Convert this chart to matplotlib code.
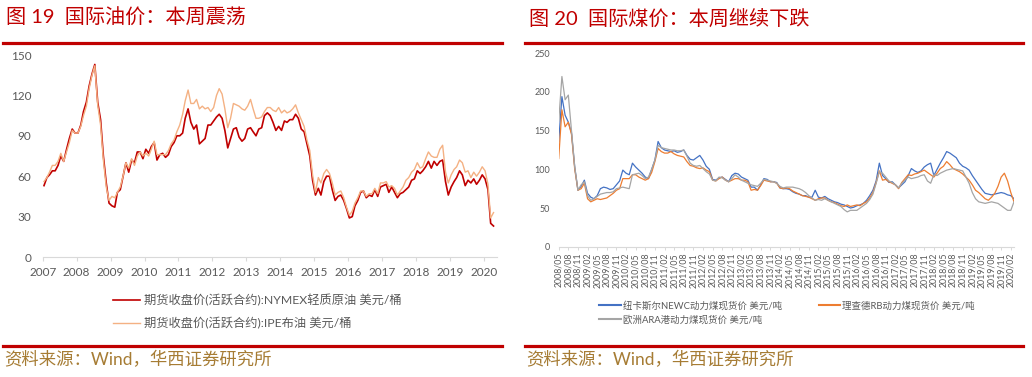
import matplotlib
matplotlib.use('Agg')
import matplotlib.pyplot as plt
import matplotlib.dates as mdates
from matplotlib.lines import Line2D
import pandas as pd
from datetime import datetime

plt.rcParams['font.family'] = ['Lato', 'Noto Sans CJK SC', 'DejaVu Sans']

# ---------------- data: international oil (monthly, USD/bbl) ----------------
oil_start = '2007-01-01'
wti = [
    53, 59, 61, 64, 64, 68, 75, 71, 80, 88, 95, 92,          # 2007
    92, 98, 108, 115, 127, 136, 143, 115, 102, 75, 55, 40,   # 2008
    38, 37, 48, 50, 60, 70, 63, 72, 70, 78, 78, 73,          # 2009
    80, 77, 82, 85, 72, 76, 77, 74, 76, 82, 85, 90,          # 2010
    90, 92, 103, 110, 100, 95, 98, 84, 86, 88, 98, 98,       # 2011
    101, 104, 106, 103, 94, 81, 88, 95, 96, 89, 86, 88,      # 2012
    95, 96, 93, 90, 95, 96, 105, 107, 105, 100, 94, 97,      # 2013
    94, 101, 100, 102, 102, 106, 103, 95, 93, 84, 75, 57,    # 2014
    46, 51, 46, 56, 60, 60, 50, 42, 45, 46, 42, 36,          # 2015
    29, 30, 38, 42, 48, 49, 44, 46, 45, 50, 45, 52,          # 2016
    53, 54, 48, 52, 48, 44, 47, 48, 50, 52, 57, 58,          # 2017
    64, 62, 64, 67, 71, 66, 71, 68, 71, 72, 56, 46,          # 2018
    52, 56, 59, 64, 61, 53, 57, 55, 58, 54, 57, 61,          # 2019
    58, 50, 25, 23,                                          # 2020
]
brent = [
    56, 59, 63, 68, 68, 71, 77, 71, 78, 85, 94, 92,
    92, 97, 105, 112, 125, 135, 142, 113, 98, 72, 52, 42,
    45, 44, 48, 52, 60, 70, 66, 73, 68, 75, 78, 75,
    77, 75, 80, 86, 76, 76, 76, 76, 79, 84, 87, 93,
    98, 106, 116, 124, 114, 114, 117, 110, 112, 110, 111, 108,
    111, 120, 125, 121, 110, 96, 103, 114, 113, 112, 110, 109,
    112, 117, 110, 103, 103, 104, 108, 111, 111, 109, 108, 111,
    107, 109, 107, 108, 110, 113, 107, 102, 97, 87, 79, 61,
    48, 59, 55, 62, 65, 62, 55, 46, 48, 49, 44, 37,
    31, 34, 40, 44, 49, 49, 45, 47, 47, 51, 47, 55,
    55, 56, 52, 53, 51, 46, 49, 52, 57, 59, 63, 65,
    70, 66, 67, 73, 78, 75, 74, 74, 80, 83, 63, 55,
    61, 65, 67, 72, 70, 63, 64, 59, 63, 60, 63, 67,
    64, 54, 29, 33,
]
oil_labels = ['期货收盘价(活跃合约):NYMEX轻质原油 美元/桶',
              '期货收盘价(活跃合约):IPE布油 美元/桶']
oil_yticks = [0, 30, 60, 90, 120, 150]

# ---------------- data: international coal (monthly, USD/t) ----------------
coal_start = '2008-05'
newc = [
    136, 194, 170, 161, 147, 103, 73, 78, 86, 69, 64, 62,
    66, 75, 77, 76, 74, 75, 80, 85, 99, 95, 93, 108,
    103, 99, 95, 90, 88, 100, 112, 136, 128, 125, 124, 123,
    124, 122, 123, 125, 118, 113, 112, 115, 118, 112, 104, 100,
    87, 86, 89, 90, 87, 84, 92, 95, 94, 90, 88, 86,
    77, 77, 73, 80, 88, 87, 84, 84, 83, 76, 75, 75,
    74, 71, 69, 68, 66, 66, 64, 64, 73, 64, 63, 65,
    62, 60, 58, 57, 55, 54, 52, 50, 51, 53, 54, 56,
    60, 66, 73, 85, 108, 92, 88, 83, 84, 80, 76, 80,
    84, 92, 101, 98, 96, 98, 103, 106, 108, 92, 100, 108,
    115, 123, 121, 118, 115, 108, 104, 102, 99, 92, 86, 80,
    74, 69, 68, 67, 68, 69, 70, 69, 67, 66, 62,
]
rb = [
    114, 177, 155, 161, 145, 100, 73, 75, 82, 62, 58, 60,
    62, 61, 62, 63, 66, 69, 73, 75, 88, 88, 88, 93,
    93, 90, 88, 86, 88, 96, 110, 127, 123, 121, 121, 123,
    120, 118, 117, 116, 110, 105, 104, 102, 101, 102, 99, 97,
    86, 85, 88, 90, 86, 84, 86, 88, 88, 86, 86, 84,
    73, 74, 73, 79, 86, 85, 84, 84, 82, 76, 75, 76,
    75, 72, 70, 68, 66, 65, 64, 62, 60, 62, 63, 63,
    60, 58, 57, 55, 53, 52, 54, 52, 53, 54, 53, 56,
    58, 63, 70, 83, 98, 86, 87, 84, 82, 80, 75, 83,
    88, 93, 92, 94, 95, 97, 99, 96, 93, 90, 95, 101,
    104, 110, 106, 101, 99, 97, 94, 90, 86, 80, 73, 70,
    66, 62, 60, 64, 69, 78, 90, 95, 85, 70, 58,
]
ara = [
    162, 220, 190, 196, 150, 103, 73, 80, 84, 66, 60, 62,
    65, 68, 69, 70, 70, 71, 75, 76, 77, 76, 75, 93,
    94, 95, 92, 88, 90, 100, 112, 131, 128, 127, 126, 125,
    125, 124, 124, 125, 117, 108, 105, 104, 105, 101, 97, 94,
    86, 85, 90, 89, 86, 84, 88, 93, 90, 86, 84, 82,
    80, 79, 78, 82, 87, 86, 85, 84, 82, 78, 76, 77,
    77, 77, 76, 75, 73, 70, 66, 63, 60, 61, 60, 62,
    60, 58, 56, 54, 52, 48, 45, 47, 47, 47, 50, 53,
    56, 61, 68, 82, 97, 95, 90, 85, 83, 80, 76, 82,
    86, 90, 88, 89, 90, 92, 93, 85, 82, 93, 92, 95,
    97, 99, 100, 101, 100, 99, 98, 90, 82, 70, 62, 58,
    57, 56, 57, 58, 57, 56, 53, 50, 47, 47, 58,
]
coal_labels = ['纽卡斯尔NEWC动力煤现货价 美元/吨',
               '理查德RB动力煤现货价 美元/吨',
               '欧洲ARA港动力煤现货价 美元/吨']
coal_yticks = [0, 50, 100, 150, 200, 250]

# ---------------- style ----------------
RED = '#C00000'
WTI_C = '#C00000'
BRENT_C = '#F4B183'
BLUE = '#4472C4'
ORANGE = '#ED7D31'
GRAY = '#A5A5A5'
TXT = '#595959'
AXC = '#D9D9D9'
SRC = '#A67C34'

W, H = 1032, 377
fig = plt.figure(figsize=(W / 100, H / 100), dpi=100)


def fx(px):
    return px / W


def fy(py):
    return 1 - py / H


# ---------------- left chart: oil ----------------
oil_dates = pd.date_range(oil_start, periods=len(wti), freq='MS') + pd.Timedelta(days=14)
ax1 = fig.add_axes([fx(42.7), fy(257), (496.7 - 42.7) / W, (257 - 55) / H])
l_wti, = ax1.plot(oil_dates, wti, color=WTI_C, lw=1.2, label=oil_labels[0])
l_brent, = ax1.plot(oil_dates, brent, color=BRENT_C, lw=1.0, label=oil_labels[1])
ax1.set_ylim(0, 150)
ax1.set_yticks(oil_yticks)
ax1.set_xlim(datetime(2007, 1, 1), datetime(2020, 5, 19))
ax1.xaxis.set_major_locator(mdates.YearLocator())
ax1.xaxis.set_major_formatter(mdates.DateFormatter('%Y'))
for s in ['top', 'right', 'left']:
    ax1.spines[s].set_visible(False)
ax1.spines['bottom'].set_color(AXC)
ax1.spines['bottom'].set_linewidth(0.8)
ax1.tick_params(axis='y', length=0, pad=8, labelsize=8.5, labelcolor=TXT)
ax1.tick_params(axis='x', length=3, width=0.8, color=AXC, pad=4, labelsize=8.5, labelcolor=TXT)

leg1 = fig.legend(handles=[l_wti, l_brent], loc='upper left',
                  bbox_to_anchor=(fx(113), fy(294)), frameon=False,
                  fontsize=8.8, handlelength=2.2, handletextpad=0.35,
                  labelspacing=0.85, borderpad=0, borderaxespad=0)
for t in leg1.get_texts():
    t.set_color(TXT)

# ---------------- right chart: coal ----------------
coal_periods = pd.period_range(coal_start, periods=len(newc), freq='M')
coal_x = list(range(len(newc)))
coal_tick_labels = [p.strftime('%Y/%m') for p in coal_periods]

ax2 = fig.add_axes([fx(558.7), fy(246.7), (1014 - 558.7) / W, (246.7 - 53.3) / H])
l_newc, = ax2.plot(coal_x, newc, color=BLUE, lw=0.9, label=coal_labels[0])
l_rb, = ax2.plot(coal_x, rb, color=ORANGE, lw=0.9, label=coal_labels[1])
l_ara, = ax2.plot(coal_x, ara, color=GRAY, lw=0.9, label=coal_labels[2])
ax2.set_ylim(0, 250)
ax2.set_yticks(coal_yticks)
ax2.set_xlim(0, len(newc) - 1)
ax2.set_xticks(coal_x[::3])
ax2.set_xticklabels(coal_tick_labels[::3], rotation=90)
for s in ['top', 'right', 'left']:
    ax2.spines[s].set_visible(False)
ax2.spines['bottom'].set_color(AXC)
ax2.spines['bottom'].set_linewidth(0.8)
ax2.tick_params(axis='y', length=0, pad=6, labelsize=6.5, labelcolor=TXT)
ax2.tick_params(axis='x', length=2.5, width=0.7, color=AXC, pad=2, labelsize=6.3, labelcolor=TXT)

leg2 = fig.legend(handles=[l_newc, l_ara, l_rb],
                  labels=[coal_labels[0], coal_labels[2], coal_labels[1]],
                  loc='upper left', ncol=2,
                  bbox_to_anchor=(fx(599), fy(301)), frameon=False,
                  fontsize=6.8, handlelength=2.3, handletextpad=0.2,
                  columnspacing=3.9, labelspacing=0.45,
                  borderpad=0, borderaxespad=0)
for t in leg2.get_texts():
    t.set_color(TXT)
for h in leg2.legend_handles:
    h.set_linewidth(1.5)

# ---------------- titles, rules, sources ----------------
fig.text(fx(6), fy(17.7), '图 19  国际油价：本周震荡', fontsize=14.5, color=RED,
         ha='left', va='center')
fig.text(fx(529), fy(17.7), '图 20  国际煤价：本周继续下跌', fontsize=14.5, color=RED,
         ha='left', va='center')
for x0, x1 in [(3, 502), (525, 1023)]:
    fig.add_artist(Line2D([fx(x0), fx(x1)], [fy(43.3)] * 2, color=RED, lw=2.3))
    fig.add_artist(Line2D([fx(x0), fx(x1)], [fy(346.3)] * 2, color=RED, lw=2.3))
fig.text(fx(4), fy(360), '资料来源：Wind，华西证券研究所', fontsize=12.5, color=SRC,
         ha='left', va='center')
fig.text(fx(526), fy(360), '资料来源：Wind，华西证券研究所', fontsize=12.5, color=SRC,
         ha='left', va='center')

fig.savefig('out.png', dpi=100)
